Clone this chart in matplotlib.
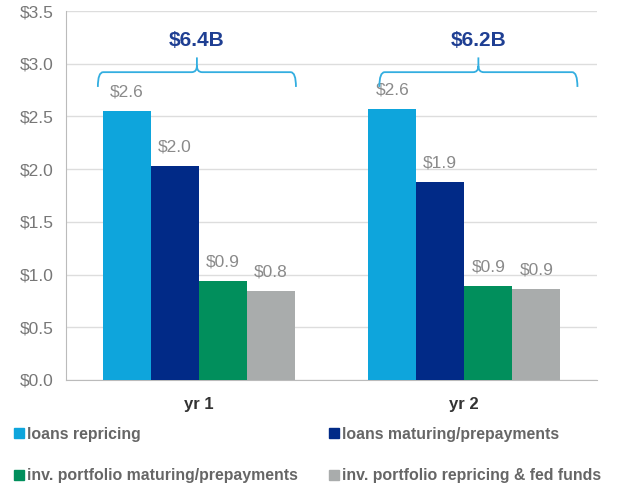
import numpy as np
import matplotlib.pyplot as plt
from matplotlib.path import Path
from matplotlib.patches import PathPatch, Patch

plt.rcParams['font.family'] = ['Liberation Sans', 'DejaVu Sans']

# Daten
groups = ["yr 1", "yr 2"]
series = ["loans repricing", "loans maturing/prepayments",
          "inv. portfolio maturing/prepayments", "inv. portfolio repricing & fed funds"]
values = [
    [2.55, 2.57],   # loans repricing
    [2.03, 1.88],   # loans maturing/prepayments
    [0.94, 0.89],   # inv. portfolio maturing/prepayments
    [0.845, 0.86],  # inv. portfolio repricing & fed funds
]
labels = [
    ["$2.6", "$2.6"],
    ["$2.0", "$1.9"],
    ["$0.9", "$0.9"],
    ["$0.8", "$0.9"],
]
totals = ["$6.4B", "$6.2B"]
colors = ["#0ea5dc", "#012a87", "#018f5c", "#a9acac"]

fig = plt.figure(figsize=(6.19, 4.9), dpi=100)
ax = fig.add_axes([0.1066, 0.2245, 0.858, 0.753])

x = np.arange(len(groups))
w = 0.181
offsets = (np.arange(4) - 1.5) * w
for i in range(4):
    bars = ax.bar(x + offsets[i], values[i], width=w, color=colors[i],
                  label=series[i], zorder=3)
    for b, lab in zip(bars, labels[i]):
        ax.text(b.get_x() + b.get_width() / 2, b.get_height() + 0.18, lab,
                ha="center", va="center", fontsize=12.5, color="#8a8a8a")

# geschweifte Klammern mit Summen
brace_col = "#33aee0"
for gx, dx, tot in zip(x, [0.0, 0.06], totals):
    x0 = gx - 0.38 + dx
    x1 = gx + 0.366 + dx
    xm = (x0 + x1) / 2
    yb, yl, yt = 2.92, 2.78, 3.06
    rx, ry = 0.02, 0.06
    verts = [(x0, yl), (x0, yb), (x0 + rx, yb),
             (xm - rx, yb), (xm, yb), (xm, yb + ry), (xm, yt),
             (xm, yb + ry), (xm, yb), (xm + rx, yb),
             (x1 - rx, yb), (x1, yb), (x1, yl)]
    codes = [Path.MOVETO, Path.CURVE3, Path.CURVE3,
             Path.LINETO, Path.CURVE3, Path.CURVE3, Path.LINETO,
             Path.MOVETO, Path.CURVE3, Path.CURVE3,
             Path.LINETO, Path.CURVE3, Path.CURVE3]
    ax.add_patch(PathPatch(Path(verts, codes), fill=False, edgecolor=brace_col,
                           lw=1.3, zorder=4))
    ax.text(xm, 3.22, tot, ha="center", va="center", fontsize=15,
            fontweight="bold", color="#1f3f93")

ax.set_xlim(-0.5, 1.5)
ax.set_ylim(0, 3.5)
ax.set_yticks(np.arange(0, 3.51, 0.5))
ax.set_yticklabels([f"${v:.1f}" for v in np.arange(0, 3.51, 0.5)])
ax.set_xticks(x)
ax.set_xticklabels(groups, fontweight="bold", fontsize=12, color="#333333")
ax.tick_params(axis="y", length=0, labelsize=12.5, labelcolor="#777777", pad=9)
ax.tick_params(axis="x", length=0, pad=12)
ax.grid(axis="y", color="#dddddd", lw=1, zorder=0)
for s in ["top", "right"]:
    ax.spines[s].set_visible(False)
ax.spines["left"].set_color("#bbbbbb")
ax.spines["bottom"].set_color("#bbbbbb")

# Legende zeilenweise: Reihenfolge fuer ncol=2 umsortieren
order = [0, 2, 1, 3]
handles = [Patch(color=colors[i]) for i in order]
fig.legend(handles, [series[i] for i in order], loc="center left",
           bbox_to_anchor=(0.0, 0.0714),
           ncol=2, frameon=False, handlelength=0.6, handleheight=0.6,
           handletextpad=0.2, columnspacing=2.0, labelspacing=1.66,
           prop={"weight": "bold", "size": 11.4}, labelcolor="#666666")

plt.savefig("out.png")
